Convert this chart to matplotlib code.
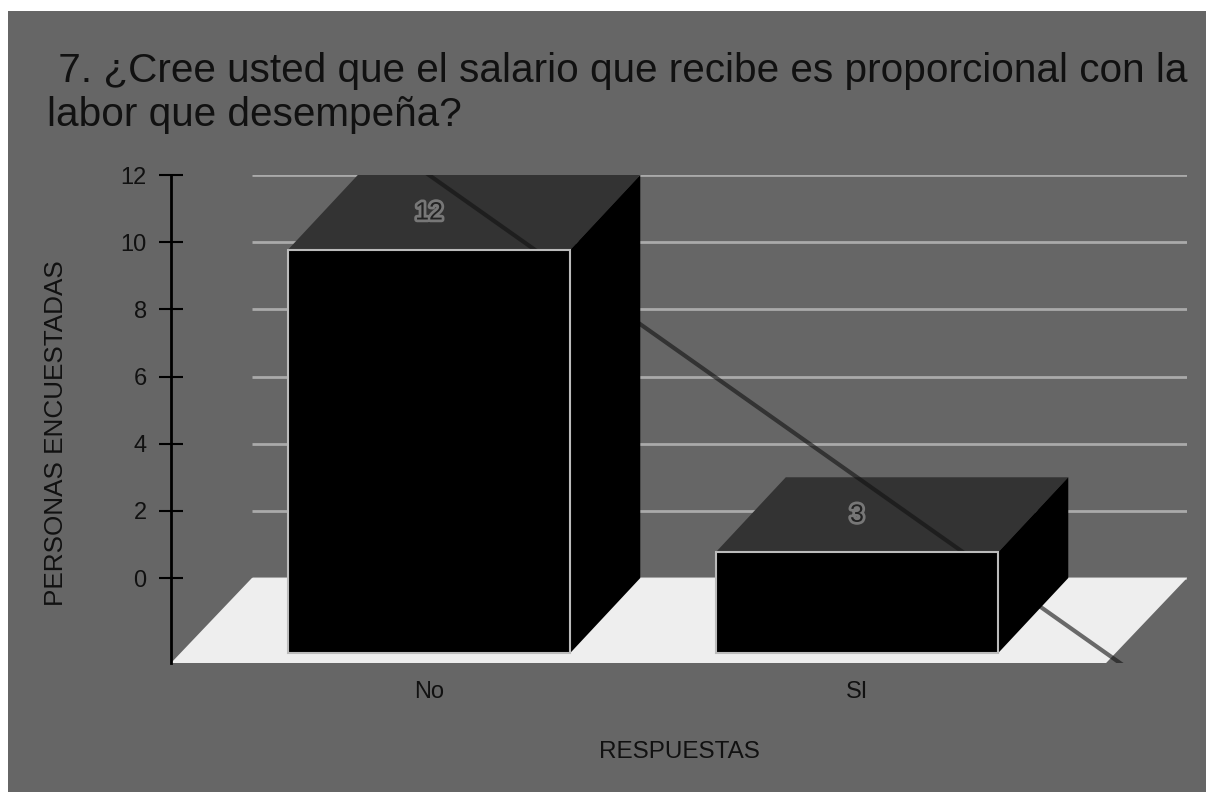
import numpy as np
import matplotlib
matplotlib.use("Agg")
import matplotlib.pyplot as plt
import matplotlib.patheffects as pe
from matplotlib.patches import Polygon, Rectangle

# Data
categories = ["No", "SI"]
values = [12, 3]
yticks = [0, 2, 4, 6, 8, 10, 12]
title = " 7. ¿Cree usted que el salario que recibe es proporcional con la\nlabor que desempeña?"

plt.rcParams['font.family'] = ['Liberation Sans', 'DejaVu Sans']

W, H = 1214, 801
fig = plt.figure(figsize=(W / 100, H / 100), dpi=100, facecolor="white")

# gray panel behind the chart
fig.patches.append(Rectangle((8 / W, 9 / H), 1198 / W, 781 / H, transform=fig.transFigure,
                             facecolor="#666666", edgecolor="none", zorder=-10))

# axes covering the back plane plus the floor in front of it
ax = fig.add_axes([171 / W, (H - 663) / H, 1016 / W, 488 / H])
ax.set_facecolor("none")
floor_d = 2.53          # floor depth in value units
floor_dx = 0.189        # floor depth in category units
bar_d = 2.232           # bar depth in value units
bar_dx = 0.1636         # bar depth in category units
half_w = 0.33
x_left, x_right = -0.6028, 1.771
ax.set_xlim(x_left, x_right)
ax.set_ylim(-floor_d, 12)

x = np.arange(len(categories))
back_left = x_left + floor_dx

# grid lines on the back wall
ax.hlines(yticks, back_left, x_right, colors="#aaaaaa", linewidth=2, zorder=1)

# floor
floor = Polygon([(back_left, 0), (x_right, 0), (x_right - floor_dx, -floor_d), (x_left, -floor_d)],
                closed=True, facecolor="#eeeeee", edgecolor="none", zorder=1.5)
ax.add_patch(floor)

# 3D bars
for xi, v in zip(x, values):
    xl, xr = xi - half_w, xi + half_w
    top = Polygon([(xl, v - bar_d), (xr, v - bar_d), (xr + bar_dx, v), (xl + bar_dx, v)],
                  closed=True, facecolor="#333333", edgecolor="none", zorder=2)
    side = Polygon([(xr, -bar_d), (xr + bar_dx, 0), (xr + bar_dx, v), (xr, v - bar_d)],
                   closed=True, facecolor="black", edgecolor="none", zorder=3)
    front = Rectangle((xl, -bar_d), xr - xl, v, facecolor="black", edgecolor="#bbbbbb",
                      linewidth=1.5, zorder=3.1)
    ax.add_patch(top)
    ax.add_patch(side)
    ax.add_patch(front)
    ax.text(xi, v - bar_d / 2, str(v), ha="center", va="center", fontsize=18, color="#222222",
            zorder=4, path_effects=[pe.withStroke(linewidth=4, foreground="#777777")])

# linear trend line
slope, intercept = np.polyfit(x, values, 1)
xs = np.array([x_left, x_right + 1])
ax.plot(xs, slope * xs + intercept, color="#111111", alpha=0.6, linewidth=3, zorder=2.5)

# axes styling
for s in ["top", "right", "bottom"]:
    ax.spines[s].set_visible(False)
ax.spines["left"].set_linewidth(2)
ax.spines["left"].set_color("black")
ax.set_yticks(yticks)
ax.tick_params(axis="y", direction="inout", length=17, width=1.5, pad=9, labelsize=17,
               labelcolor="#111111")
ax.set_xticks(x, categories)
ax.tick_params(axis="x", length=0, pad=13, labelsize=17, labelcolor="#111111")

fig.text(679 / W, 1 - 752 / H, "RESPUESTAS", ha="center", va="center", fontsize=17.5, color="#111111")
fig.text(56 / W, 1 - 433 / H, "PERSONAS ENCUESTADAS", ha="center", va="center", rotation=90,
         fontsize=18.8, color="#111111")
fig.text(47 / W, 1 - 52 / H, title, ha="left", va="top", fontsize=29.2, color="#111111",
         linespacing=1.2)

fig.savefig("out.png", dpi=100, facecolor="white")
